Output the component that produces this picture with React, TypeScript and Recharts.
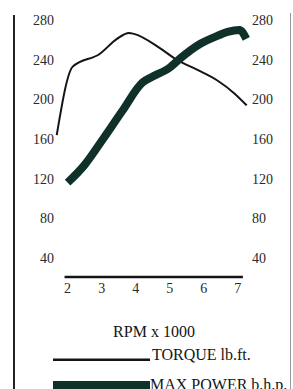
import { LineChart, Line, XAxis, YAxis, ReferenceLine, Legend, Label } from 'recharts';

// torque curve (lb.ft.) vs rpm x 1000
const torqueRpm = [1.68, 2.15, 2.95, 3.45, 3.8, 3.95, 4.7, 5.2, 5.8, 6.4, 6.9, 7.26];
const torqueLbFt = [164, 233, 246, 261, 267, 266, 252, 240, 230, 219, 206, 194];

// max power curve (b.h.p.) vs rpm x 1000
const powerRpm = [2.0, 2.5, 3.0, 3.6, 4.2, 4.5, 5.0, 5.3, 5.9, 6.4, 6.7, 7.05, 7.25];
const powerBhp = [116, 134, 158, 188, 217, 223, 232, 241, 256, 264, 268, 270, 261];

const rpmTicks = [2, 3, 4, 5, 6, 7];
const valueTicks = [40, 80, 120, 160, 200, 240, 280];
const baseline = { from: 1.91, to: 7.15, value: 21 };
const seriesNames = ['TORQUE lb.ft.', 'MAX POWER b.h.p.'];

const FONT = '"Liberation Serif", "Times New Roman", serif';
const INK = '#141414';
const GREEN = '#10302a';

const torqueData = torqueRpm.map((rpm, i) => ({ rpm, value: torqueLbFt[i] }));
const powerData = powerRpm.map((rpm, i) => ({ rpm, value: powerBhp[i] }));

function renderLegend(props: any) {
  // recharts sorts legend items by name, put them back in series order
  const payload = [...(props.payload || [])].sort(
    (a: any, b: any) => seriesNames.indexOf(a.value) - seriesNames.indexOf(b.value)
  );
  return (
    <svg width={240} height={50} style={{ display: 'block' }}>
      {payload.map((entry: any, i: number) => {
        const base = 15 + i * 30;
        const sw = entry.payload?.strokeWidth ?? 2;
        const h = Math.max(2, sw * 1.25);
        return (
          <g key={entry.value}>
            <rect x={0} y={base + 1 - h} width={97} height={h} fill={entry.color} />
            <text x={sw > 4 ? 97 : 99} y={base} fontSize={16} fontFamily={FONT} fill={INK}>
              {entry.value}
            </text>
          </g>
        );
      })}
    </svg>
  );
}

export default function App() {
  const tick = { fontSize: 14, fontFamily: FONT, fill: '#2a2a2a' };
  return (
    <div style={{ position: 'absolute', left: 0, top: 0, width: 293, height: 389, overflow: 'hidden', background: '#fff', fontFamily: FONT }}>
      {/* page frame */}
      <div style={{ position: 'absolute', left: 13, top: 15, width: 2, height: 374, background: '#222' }} />
      <div style={{ position: 'absolute', left: 290, top: 13, width: 1, height: 376, background: '#999' }} />

      <LineChart width={293} height={389} margin={{ top: 20, right: 1, bottom: 91, left: 10 }}>
        <XAxis
          type="number"
          dataKey="rpm"
          domain={[1.6, 7.3]}
          ticks={rpmTicks}
          axisLine={false}
          tickLine={false}
          tickSize={0}
          tickMargin={5}
          height={20}
          tick={tick}
        >
          <Label value="RPM x 1000" position="bottom" offset={28} dx={3} style={{ fontSize: 16, fontFamily: FONT, fill: INK }} />
        </XAxis>
        <YAxis
          yAxisId="left"
          type="number"
          domain={[20, 280]}
          ticks={valueTicks}
          axisLine={false}
          tickLine={false}
          tickSize={0}
          tickMargin={0}
          width={44}
          tick={tick}
        />
        <YAxis
          yAxisId="right"
          orientation="right"
          type="number"
          domain={[20, 280]}
          ticks={valueTicks}
          axisLine={false}
          tickLine={false}
          tickSize={0}
          tickMargin={4}
          width={44}
          tick={tick}
        />
        <ReferenceLine
          yAxisId="left"
          segment={[{ x: baseline.from, y: baseline.value }, { x: baseline.to, y: baseline.value }]}
          stroke={INK}
          strokeWidth={2.5}
        />
        <Line
          yAxisId="left"
          data={torqueData}
          dataKey="value"
          name={seriesNames[0]}
          type="monotone"
          stroke={INK}
          strokeWidth={2}
          dot={false}
          isAnimationActive={false}
        />
        <Line
          yAxisId="right"
          data={powerData}
          dataKey="value"
          name={seriesNames[1]}
          type="monotone"
          stroke={GREEN}
          strokeWidth={8}
          strokeLinecap="butt"
          dot={false}
          isAnimationActive={false}
        />
        <Legend
          layout="horizontal"
          verticalAlign="middle"
          content={renderLegend}
          wrapperStyle={{ left: 53, top: 345, width: 240, height: 50 }}
        />
      </LineChart>
    </div>
  );
}
